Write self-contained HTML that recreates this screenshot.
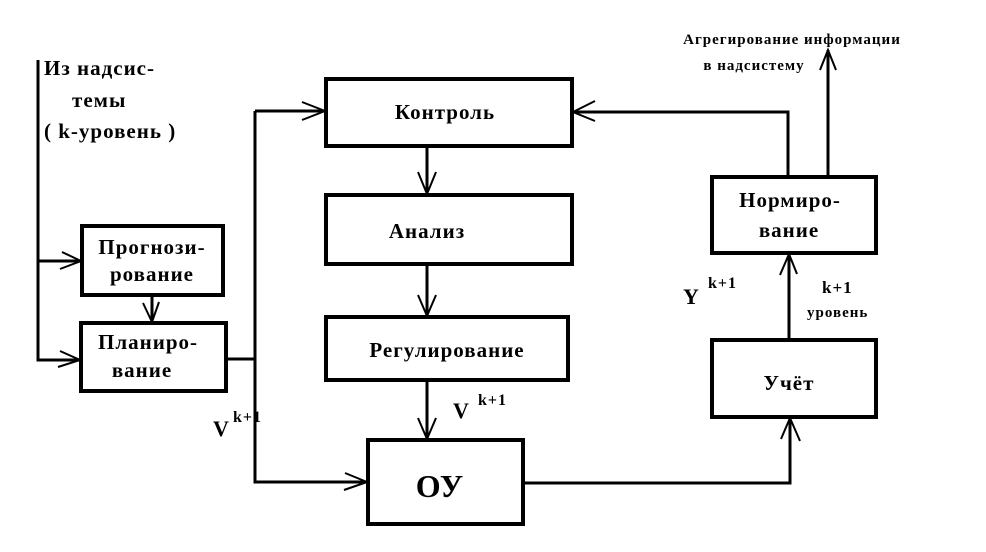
<!DOCTYPE html>
<html><head><meta charset="utf-8"><style>
body{margin:0;background:#fff}
svg text{font-family:"Liberation Serif",serif;font-weight:bold;fill:#000}
</style></head><body>
<svg width="986" height="547" viewBox="0 0 986 547" xmlns="http://www.w3.org/2000/svg">
<g fill="none" stroke="#000" stroke-width="4">
<rect x="82" y="226" width="141" height="69"/>
<rect x="81" y="323" width="145" height="68"/>
<rect x="326" y="79" width="246" height="67"/>
<rect x="326" y="195" width="246" height="69"/>
<rect x="326" y="317" width="242" height="63"/>
<rect x="368" y="440" width="155" height="84"/>
<rect x="712" y="177" width="164" height="76"/>
<rect x="712" y="340" width="164" height="77"/>
</g>
<g fill="none" stroke="#000" stroke-width="3">
<path d="M38 60V360H80M38 261H81"/>
<path d="M152 295V322"/>
<path d="M226 359H255M255 111V482H367M255 111H325"/>
<path d="M427 146V194M427 264V316M427 380V439"/>
<path d="M523 483H790V418"/>
<path d="M789 340V254"/>
<path d="M788 177V112H573"/>
<path d="M828 177V50"/>
</g>
<g fill="none" stroke="#000" stroke-width="2">
<path d="M62 252L81 261L60 269"/>
<path d="M60 351L80 360L58 367"/>
<path d="M143 303L152 322L159 302"/>
<path d="M302 102L325 111L302 120"/>
<path d="M345 473L367 482L344 490"/>
<path d="M418 172L427 194L436 172"/>
<path d="M418 295L427 316L436 295"/>
<path d="M418 418L427 439L436 418"/>
<path d="M595 101L573 112L595 121"/>
<path d="M780 275L789 254L797 274"/>
<path d="M781 439L790 418L800 441"/>
<path d="M820 70L828 50L836 70"/>
</g>
<g letter-spacing="1">
<text x="44" y="75" font-size="21">Из надсис-</text>
<text x="72" y="107" font-size="21">темы</text>
<text x="44" y="138" font-size="21">( k-уровень )</text>
<text x="152" y="254" font-size="21" text-anchor="middle">Прогнози-</text>
<text x="152" y="281" font-size="21" text-anchor="middle">рование</text>
<text x="148" y="349" font-size="21" text-anchor="middle">Планиро-</text>
<text x="142" y="377" font-size="21" text-anchor="middle">вание</text>
<text x="445" y="119" font-size="21" text-anchor="middle">Контроль</text>
<text x="427" y="238" font-size="21" text-anchor="middle">Анализ</text>
<text x="447" y="357" font-size="21" text-anchor="middle">Регулирование</text>
<text x="440" y="497" font-size="32" text-anchor="middle">ОУ</text>
<text x="790" y="207" font-size="21" text-anchor="middle">Нормиро-</text>
<text x="789" y="237" font-size="21" text-anchor="middle">вание</text>
<text x="789" y="390" font-size="21" text-anchor="middle">Учёт</text>
<text x="792" y="44" font-size="15" text-anchor="middle">Агрегирование информации</text>
<text x="754" y="70" font-size="15" text-anchor="middle">в надсистему</text>
<text x="683" y="304" font-size="22">Y</text>
<text x="708" y="288" font-size="16">k+1</text>
<text x="822" y="293" font-size="17">k+1</text>
<text x="807" y="317" font-size="15">уровень</text>
<text x="213" y="436" font-size="22">V</text>
<text x="233" y="422" font-size="16">k+1</text>
<text x="453" y="418" font-size="22">V</text>
<text x="478" y="405" font-size="16">k+1</text>
</g>
</svg>
</body></html>
